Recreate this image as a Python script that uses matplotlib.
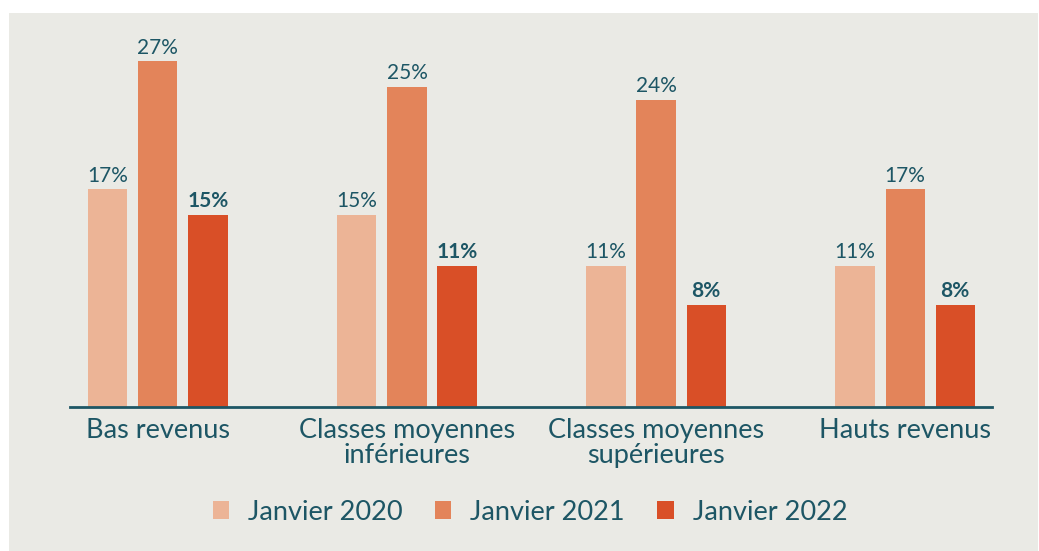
import matplotlib
matplotlib.use("Agg")
import matplotlib.pyplot as plt
from matplotlib.patches import Rectangle, Patch
import numpy as np

categories = ["Bas revenus", "Classes moyennes\ninférieures", "Classes moyennes\nsupérieures", "Hauts revenus"]
series_names = ["Janvier 2020", "Janvier 2021", "Janvier 2022"]
jan_2020 = [17, 15, 11, 11]
jan_2021 = [27, 25, 24, 17]
jan_2022 = [15, 11, 8, 8]

COLORS = ["#ECB496", "#E3845A", "#D94F27"]
TEXT = "#1D5665"
BG = "#EAEAE5"

plt.rcParams["font.family"] = ["Lato", "DejaVu Sans"]

fig = plt.figure(figsize=(10.39, 5.51), dpi=100)
fig.patch.set_facecolor("white")
fig.patches.append(Rectangle((9 / 1039, 0), 1029 / 1039, 538 / 551,
                             transform=fig.transFigure, facecolor=BG,
                             edgecolor="none", zorder=-10))

ax = fig.add_axes([70 / 1039, (551 - 407) / 551, 922 / 1039, 367 / 551])
ax.set_facecolor("none")

x = np.arange(len(categories))
width = 0.157
offset = 0.201
for i, (vals, color) in enumerate(zip([jan_2020, jan_2021, jan_2022], COLORS)):
    pos = x + (i - 1) * offset
    bars = ax.bar(pos, vals, width=width, color=color, zorder=2)
    for b, v in zip(bars, vals):
        ax.text(b.get_x() + b.get_width() / 2, v + 0.3, f"{v}%",
                ha="center", va="bottom", fontsize=15, color=TEXT,
                fontweight="bold" if i == 2 else "normal")

ax.set_xlim(-0.353, 3.349)
ax.set_ylim(0, 28.67)
for s in ["top", "right", "left"]:
    ax.spines[s].set_visible(False)
ax.spines["bottom"].set_color(TEXT)
ax.spines["bottom"].set_linewidth(2)
ax.set_yticks([])
ax.set_xticks(x)
ax.set_xticklabels(categories, fontsize=19.5, color=TEXT, linespacing=1.0)
ax.tick_params(axis="x", length=0, pad=8)

handles = [Patch(facecolor=c, edgecolor="none") for c in COLORS]
fig.legend(handles, series_names, loc="center", bbox_to_anchor=(530 / 1039, 1 - 512 / 551),
           ncol=3, frameon=False, fontsize=19.5, labelcolor=TEXT,
           handlelength=0.6, handleheight=0.6, handletextpad=0.7, columnspacing=1.2)

fig.savefig("out.png", dpi=100, facecolor=fig.get_facecolor())
